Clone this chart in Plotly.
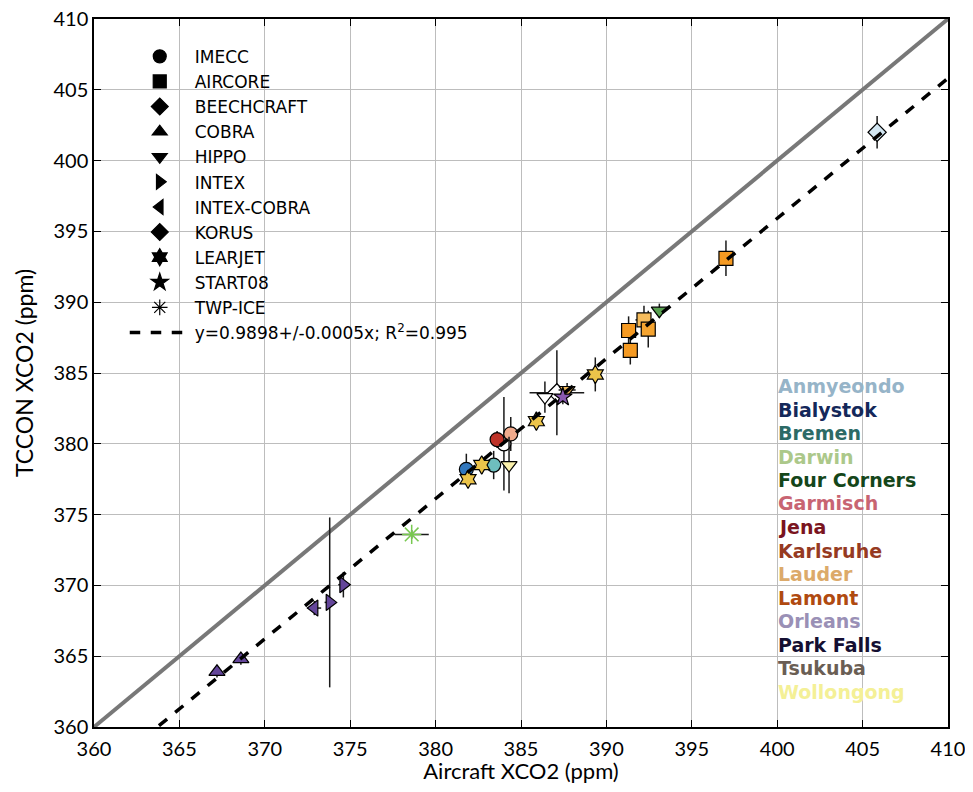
import plotly.graph_objects as go

# ---------------- data ----------------
campaign_names = ["IMECC", "AIRCORE", "BEECHCRAFT", "COBRA", "HIPPO", "INTEX",
                  "INTEX-COBRA", "KORUS", "LEARJET", "START08", "TWP-ICE"]
campaign_symbols = ["circle", "square", "diamond", "triangle-up", "triangle-down",
                    "triangle-right", "triangle-left", "diamond", "hexagram",
                    "star", "asterisk-open"]

site_names = ["Anmyeondo", "Bialystok", "Bremen", "Darwin", "Four Corners",
              "Garmisch", "Jena", "Karlsruhe", "Lauder", "Lamont", "Orleans",
              "Park Falls", "Tsukuba", "Wollongong"]
site_label_colors = ["#96b4c8", "#14285a", "#2c6a66", "#acc88a", "#14461a",
                     "#c86472", "#7a1420", "#963a22", "#dcaa6a", "#b04a10",
                     "#9a90b6", "#140f32", "#6a5e54", "#f4f096"]

pt_campaign = ["KORUS", "AIRCORE", "AIRCORE", "AIRCORE", "AIRCORE", "AIRCORE",
               "HIPPO", "LEARJET", "HIPPO", "BEECHCRAFT", "HIPPO", "START08",
               "LEARJET", "IMECC", "LEARJET", "LEARJET", "IMECC", "HIPPO",
               "IMECC", "IMECC", "IMECC", "COBRA", "COBRA", "INTEX-COBRA",
               "INTEX", "INTEX", "TWP-ICE"]
pt_x = [405.85, 397.0, 392.2, 391.3, 392.45, 391.4,
        393.1, 389.35, 386.4, 387.1, 387.7, 387.45,
        385.9, 381.8, 381.9, 382.7, 383.4, 384.3,
        384.0, 383.6, 384.4, 367.2, 368.6, 372.9,
        373.8, 374.6, 378.6]
pt_y = [402.0, 393.1, 388.75, 388.0, 388.1, 386.6,
        389.4, 384.9, 383.3, 383.6, 383.8, 383.3,
        381.6, 378.2, 377.5, 378.5, 378.5, 378.5,
        380.0, 380.3, 380.7, 363.9, 364.8, 368.4,
        368.8, 370.05, 373.6]
pt_xerr = [0.3, 0.3, 0.5, 0.4, 0.4, 0.4,
           0.3, 0.3, 0.3, 1.6, 0.5, 0.3,
           0.3, 0.3, 0.3, 0.3, 0.3, 0.3,
           0.3, 0.3, 0.3, 0.3, 0.3, 0.4,
           0.3, 0.3, 1.0]
pt_yerr = [1.15, 1.25, 1.0, 1.0, 1.3, 1.0,
           0.5, 1.2, 1.1, 3.0, 0.5, 0.5,
           0.6, 1.1, 0.6, 0.6, 1.0, 2.0,
           3.3, 0.6, 1.2, 0.4, 0.4, 0.5,
           6.0, 0.9, 0.3]
pt_color = ["#d2e6f2", "#f59a22", "#f6bc5c", "#f59a22", "#f5a430", "#f59a22",
            "#58a050", "#ecc44a", "#ffffff", "#ffffff", "#e8b45a", "#8a5ab0",
            "#ecc44a", "#3278be", "#ecc44a", "#ecc44a", "#6ebebe", "#faf0aa",
            "#ffffff", "#be3228", "#f0aa8c", "#64469a", "#64469a", "#64469a",
            "#64469a", "#64469a", "#78c850"]

fit_slope = 0.9898
fit_label = "y=0.9898+/-0.0005x; R<sup>2</sup>=0.995"
axis_min, axis_max = 360, 410

# ---------------- figure ----------------
fig = go.Figure()
FONT = "Lato, 'Open Sans', sans-serif"
LEGFONT = "'DejaVu Sans', sans-serif"

# 1:1 line
fig.add_trace(go.Scatter(x=[axis_min, axis_max], y=[axis_min, axis_max], mode="lines",
                         line=dict(color="#787878", width=4), showlegend=False,
                         hoverinfo="skip"))

# legend-only campaign entries
for i, (nm, sym) in enumerate(zip(campaign_names, campaign_symbols)):
    fig.add_trace(go.Scatter(
        x=[None], y=[None], mode="markers", name=nm, legendrank=i + 1,
        marker=dict(symbol=sym, size=13, color="black",
                    line=dict(color="black", width=1.2))))

# data by campaign
for nm, sym in zip(campaign_names, campaign_symbols):
    idx = [k for k, c in enumerate(pt_campaign) if c == nm]
    if not idx:
        continue
    is_ast = sym == "asterisk-open"
    fig.add_trace(go.Scatter(
        x=[pt_x[k] for k in idx], y=[pt_y[k] for k in idx], mode="markers",
        showlegend=False,
        error_x=dict(type="data", array=[pt_xerr[k] for k in idx], width=0,
                     color="#1a1a1a", thickness=1.5),
        error_y=dict(type="data", array=[pt_yerr[k] for k in idx], width=0,
                     color="#1a1a1a", thickness=1.5),
        marker=dict(symbol=sym, size=14 if not is_ast else 16,
                    color=[pt_color[k] for k in idx],
                    line=dict(color=[pt_color[k] for k in idx] if is_ast else "black",
                              width=1.5 if is_ast else 1.2))))

# fit line
fig.add_trace(go.Scatter(
    x=[axis_min, axis_max], y=[fit_slope * axis_min, fit_slope * axis_max],
    mode="lines", name=fit_label, legendrank=2000,
    line=dict(color="black", width=3.5, dash="dash"), hoverinfo="skip"))

# site labels
for i, (s, c) in enumerate(zip(site_names, site_label_colors)):
    fig.add_annotation(x=0.802, y=1 - (386 + 23.5 * i - 19) / 708, xref="paper",
                       yref="paper", text="<b>" + s + "</b>", showarrow=False,
                       xanchor="left", yanchor="middle", xshift=-3,
                       font=dict(family=LEGFONT, size=19, color=c))

axis_common = dict(range=[axis_min, axis_max], dtick=5, showgrid=True,
                   gridcolor="#bdbdbd", gridwidth=1, showline=True, mirror="ticks",
                   linecolor="black", linewidth=1.5, ticks="inside", ticklen=7,
                   tickcolor="black", zeroline=False, automargin=False,
                   ticklabeloverflow="allow",
                   tickfont=dict(family=FONT, size=20, color="black"))

# the page body adds an 8px margin, so the figure is sized to fit inside the window
fig.update_layout(
    width=957, height=776,
    margin=dict(l=86, r=17, t=11, b=57),
    plot_bgcolor="white", paper_bgcolor="white",
    xaxis=dict(**axis_common, ticklabelstandoff=3,
               title=dict(text="Aircraft XCO2 (ppm)", standoff=6,
                          font=dict(family=FONT, size=22, color="black"))),
    yaxis=dict(**axis_common,
               title=dict(text="TCCON XCO2 (ppm)", standoff=13,
                          font=dict(family=FONT, size=23, color="black"))),
    legend=dict(x=0.036, y=0.972, xanchor="left", yanchor="top",
                bgcolor="rgba(0,0,0,0)", borderwidth=0, itemwidth=60,
                font=dict(family=LEGFONT, size=17, color="black"),
                tracegroupgap=0),
    showlegend=True,
)

fig.write_html("out.html")
